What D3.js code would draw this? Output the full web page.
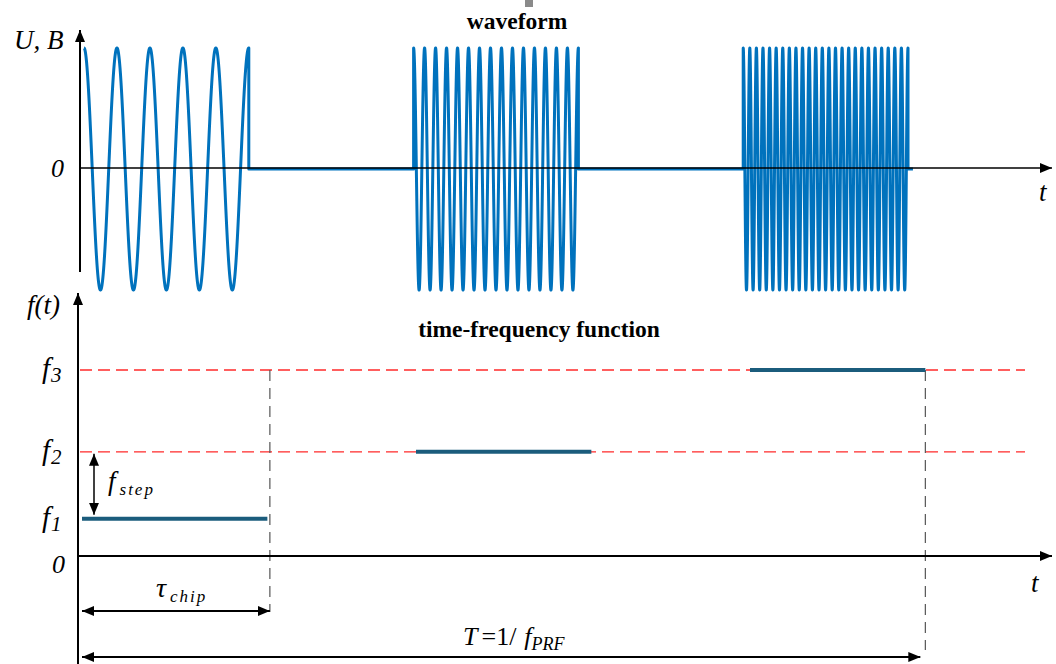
<!DOCTYPE html>
<html>

<head>
    <title>Stepped frequency waveform</title>
    <script src="https://d3js.org/d3.v7.min.js"></script>
    <style>
        body { margin: 0; background: #fff; }
        text { font-family: "Liberation Serif", "DejaVu Serif", serif; }
    </style>
</head>

<body>

    <svg width="1056" height="664" id="mainSvg"></svg>
    <script>

        // chips of the stepped-frequency burst (time in chip units)
        const chipStart = [0, 2, 4];
        const chipEnd = [1, 3, 5];
        const cyclesPerChip = [5, 15, 25];
        const signalTail = 5.03;

        // time-frequency function
        const freqNames = ["1", "2", "3"];
        const freqLevel = [1, 2.8, 5];
        const segStart = [0, 2, 4];
        const segEnd = [1.11, 3.05, 5.05];
        const tauChip = 1.125;
        const period = 5.05;

        const svg = d3.select("#mainSvg");

        // scales
        const xTop = d3.scaleLinear().domain([0, 5]).range([84, 908]);
        const yTop = d3.scaleLinear().domain([-1, 1]).range([290, 48]);
        const xBot = d3.scaleLinear().domain([0, 5]).range([82, 917]);
        const yBot = d3.scaleLinear().domain([0, 5]).range([556, 370]);

        const defs = svg.append("defs");
        defs.append("marker")
            .attr("id", "arrow")
            .attr("viewBox", "0 0 12 10")
            .attr("refX", 12).attr("refY", 5)
            .attr("markerWidth", 12).attr("markerHeight", 10)
            .attr("markerUnits", "userSpaceOnUse")
            .attr("orient", "auto-start-reverse")
            .append("path")
            .attr("d", "M0,0 L12,5 L0,10 Z")
            .attr("fill", "black");

        const axisLine = function (x1, y1, x2, y2, w) {
            svg.append("line")
                .attr("x1", x1).attr("y1", y1)
                .attr("x2", x2).attr("y2", y2)
                .attr("stroke", "black")
                .attr("stroke-width", w)
                .attr("marker-end", "url(#arrow)");
        }

        // ---------- waveform ----------
        const pts = [];
        chipStart.forEach((s, k) => {
            const e = chipEnd[k];
            if (k > 0) pts.push([s, 0]);
            const n = 4000;
            for (let i = 0; i <= n; i++) {
                const t = s + (e - s) * i / n;
                pts.push([t, Math.cos(2 * Math.PI * cyclesPerChip[k] * (t - s) / (e - s))]);
            }
            pts.push([e, 0]);
        });
        pts.push([signalTail, 0]);

        svg.append("path")
            .datum(pts)
            .attr("fill", "none")
            .attr("stroke", "#0072bd")
            .attr("stroke-width", 3)
            .attr("stroke-linejoin", "round")
            .attr("d", d3.line().x(d => xTop(d[0])).y(d => yTop(d[1])));

        axisLine(80, 272, 80, 30, 2);
        axisLine(80, 168, 1052, 168, 1.6);

        svg.append("text").attr("x", 14).attr("y", 49)
            .attr("font-size", 27).attr("font-style", "italic").text("U, B");
        svg.append("text").attr("x", 51).attr("y", 177)
            .attr("font-size", 26).attr("font-style", "italic").text("0");
        svg.append("text").attr("x", 1039).attr("y", 201)
            .attr("font-size", 27).attr("font-style", "italic").text("t");
        svg.append("text").attr("x", 517).attr("y", 29)
            .attr("font-size", 23.5).attr("font-weight", "bold")
            .attr("text-anchor", "middle").text("waveform");

        // small gray scan artefact at the top
        svg.append("rect").attr("x", 525).attr("y", 0)
            .attr("width", 8).attr("height", 7).attr("fill", "#8a8a8a");

        // ---------- time-frequency function ----------
        svg.selectAll(".refline").data(freqLevel.slice(1)).join("line")
            .attr("class", "refline")
            .attr("x1", 80).attr("x2", 1025)
            .attr("y1", d => yBot(d)).attr("y2", d => yBot(d))
            .attr("stroke", "#ff2a2a")
            .attr("stroke-width", 1.3)
            .attr("stroke-dasharray", "12,6");

        const vlines = [[tauChip, 370, 612], [period, 370, 650]];
        svg.selectAll(".vline").data(vlines).join("line")
            .attr("class", "vline")
            .attr("x1", d => xBot(d[0])).attr("x2", d => xBot(d[0]))
            .attr("y1", d => d[1]).attr("y2", d => d[2])
            .attr("stroke", "#555")
            .attr("stroke-width", 1.2)
            .attr("stroke-dasharray", "11,7");

        svg.selectAll(".seg").data(freqLevel).join("line")
            .attr("class", "seg")
            .attr("x1", (d, i) => xBot(segStart[i]))
            .attr("x2", (d, i) => xBot(segEnd[i]))
            .attr("y1", d => yBot(d)).attr("y2", d => yBot(d))
            .attr("stroke", "#1b5c7c")
            .attr("stroke-width", 4);

        axisLine(78, 664, 78, 293, 2);
        axisLine(78, 556, 1052, 556, 2);

        // f labels
        svg.selectAll(".flab").data(freqLevel).join("text")
            .attr("class", "flab")
            .attr("x", 42)
            .attr("y", d => yBot(d) + 8)
            .attr("font-size", 29).attr("font-style", "italic")
            .each(function (d, i) {
                const t = d3.select(this);
                t.append("tspan").text("f");
                t.append("tspan").attr("dx", 1).attr("dy", 4).attr("font-size", 21).text(freqNames[i]);
            });
        svg.append("text").attr("x", 52).attr("y", 573)
            .attr("font-size", 26).attr("font-style", "italic").text("0");
        svg.append("text").attr("x", 27).attr("y", 314)
            .attr("font-size", 27).attr("font-style", "italic").text("f(t)");
        svg.append("text").attr("x", 539).attr("y", 337)
            .attr("font-size", 23.5).attr("font-weight", "bold")
            .attr("text-anchor", "middle").text("time-frequency function");
        svg.append("text").attr("x", 1031).attr("y", 592)
            .attr("font-size", 27).attr("font-style", "italic").text("t");

        // f_step double arrow
        svg.append("line")
            .attr("x1", 94).attr("x2", 94)
            .attr("y1", yBot(freqLevel[0]) - 4).attr("y2", yBot(freqLevel[1]) + 2)
            .attr("stroke", "black").attr("stroke-width", 1.5)
            .attr("marker-start", "url(#arrow)").attr("marker-end", "url(#arrow)");
        const fs = svg.append("text").attr("x", 108).attr("y", 490)
            .attr("font-size", 27).attr("font-style", "italic");
        fs.append("tspan").text("f");
        fs.append("tspan").attr("dx", 4).attr("dy", 5).attr("font-size", 17)
            .attr("letter-spacing", 2).text("step");

        // tau_chip and period arrows
        const spans = [[tauChip, 611], [period - 0.03, 657]];
        svg.selectAll(".span").data(spans).join("line")
            .attr("class", "span")
            .attr("x1", xBot(0)).attr("x2", d => xBot(d[0]))
            .attr("y1", d => d[1]).attr("y2", d => d[1])
            .attr("stroke", "black").attr("stroke-width", 2)
            .attr("marker-start", "url(#arrow)").attr("marker-end", "url(#arrow)");

        const tc = svg.append("text").attr("x", 156).attr("y", 597)
            .attr("font-size", 28).attr("font-style", "italic");
        tc.append("tspan").text("τ");
        tc.append("tspan").attr("dx", 4).attr("dy", 5).attr("font-size", 17)
            .attr("letter-spacing", 2).text("chip");

        const tp = svg.append("text").attr("x", 463).attr("y", 645)
            .attr("font-size", 26);
        tp.append("tspan").attr("font-style", "italic").text("T");
        tp.append("tspan").attr("dx", 4).text("=1/");
        tp.append("tspan").attr("dx", 8).attr("font-style", "italic").text("f");
        tp.append("tspan").attr("dy", 5).attr("font-size", 18).attr("font-style", "italic").text("PRF");

    </script>
</body>

</html>
